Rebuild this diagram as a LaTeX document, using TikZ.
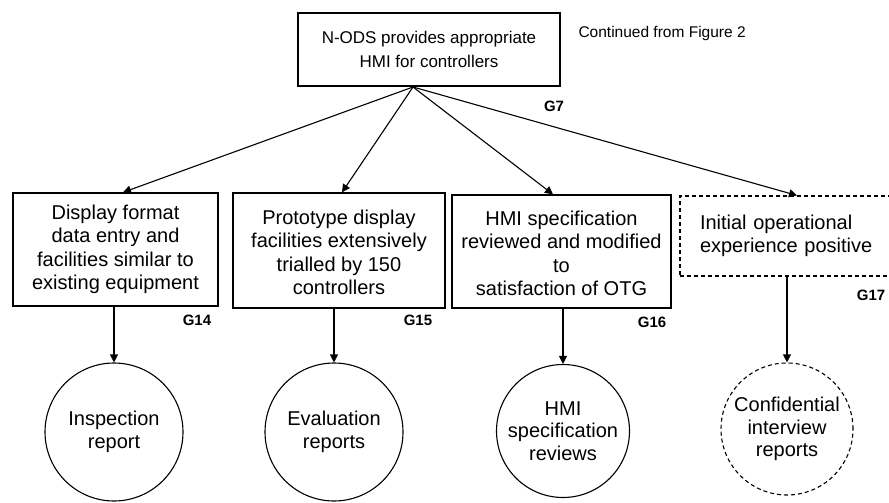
\documentclass[tikz,border=0pt]{standalone}
\usepackage{fontspec}
\setmainfont{Liberation Sans}
\usetikzlibrary{arrows.meta}

\begin{document}
\begin{tikzpicture}[x=1pt,y=-1pt,
  goal/.style={draw,line width=1.3pt,align=center,inner sep=0pt,
    font=\fontsize{20}{23.5}\selectfont},
  evidence/.style={draw,circle,line width=1.1pt,align=center,inner sep=0pt,
    font=\fontsize{20}{22.5}\selectfont},
  pending/.style={dash pattern=on 4pt off 3pt},
  tag/.style={font=\fontsize{15}{15}\selectfont\bfseries},
  link/.style={line width=1.1pt,-{Triangle[length=8pt,width=8pt]}}]
  \useasboundingbox (0,0) rectangle (889,503);
  \clip (0,0) rectangle (889,503);

  % top goal
  \node[goal,minimum width=262pt,minimum height=73pt,
    font=\fontsize{17}{24}\selectfont] (g7) at (429,49.5)
    {N-ODS provides appropriate\\HMI for controllers};
  \node[anchor=west,font=\fontsize{15.5}{18}\selectfont] (cont) at (575,33)
    {Continued from Figure 2};
  \node[tag] (l7) at (554,106) {G7};
  \coordinate (hub) at (413,87);

  % sub-goals
  \node[goal,minimum width=205pt,minimum height=113pt] (g14) at (115.5,249.5)
    {Display format\\data entry and\\facilities similar to\\existing equipment};
  \node[goal,minimum width=212pt,minimum height=115pt] (g15) at (339,250.5)
    {\rule{0pt}{18pt}Prototype display\\facilities extensively\\trialled by 150\\controllers};
  \node[goal,minimum width=219pt,minimum height=113pt] (g16) at (561.5,251.5)
    {\rule{0pt}{18pt}HMI specification\\reviewed and modified\\to\\satisfaction of OTG};
  \node[goal,pending,line width=1.1pt,text width=180pt,align=left,
    inner xsep=20pt,minimum height=80pt] (g17) at (790,236)
    {Initial operational\\experience positive};

  \node[tag] (l14) at (197,320) {G14};
  \node[tag] (l15) at (418,320) {G15};
  \node[tag] (l16) at (652,322) {G16};
  \node[tag] (l17) at (871,295) {G17};

  % evidence
  \node[evidence,minimum size=138pt] (e14) at (114,432) {Inspection\\report};
  \node[evidence,minimum size=138pt] (e15) at (334,432) {Evaluation\\reports};
  \node[evidence,minimum size=133pt] (e16) at (563,431) {HMI\\specification\\reviews};
  \node[evidence,pending,minimum size=132pt] (e17) at (787,429)
    {Confidential\\interview\\reports};

  % connectors
  \draw[link] (hub) -- (g14.north -| 123,0);
  \draw[link] (hub) -- (g15.north -| 342,0);
  \draw[link] (hub) -- (g16.north -| 553,0);
  \draw[link] (hub) -- (g17.north -| 797,0);

  \draw[link] (g14.south -| e14) -- (e14.north);
  \draw[link] (g15.south -| e15) -- (e15.north);
  \draw[link] (g16.south -| e16) -- (e16.north);
  \draw[link] (g17.south -| e17) -- (e17.north);
\end{tikzpicture}
\end{document}
